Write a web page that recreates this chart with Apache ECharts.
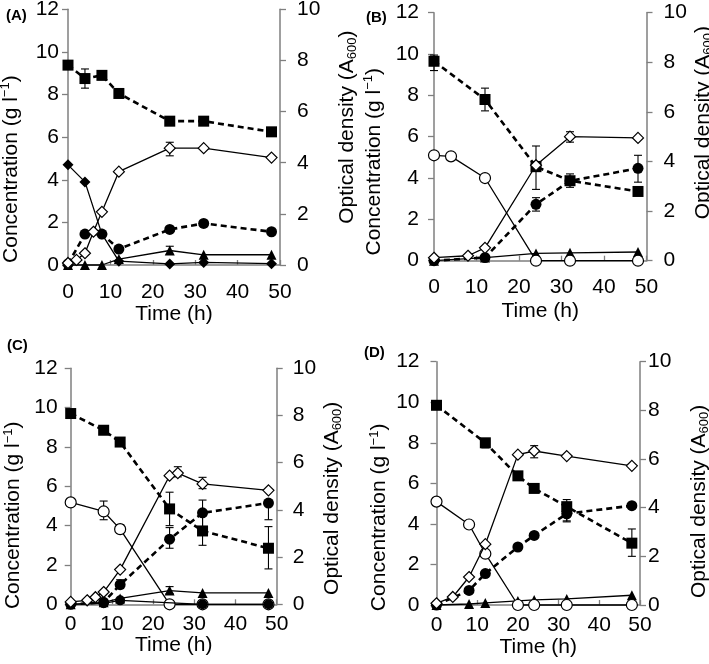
<!DOCTYPE html>
<html>
<head>
<meta charset="utf-8">
<script src="https://cdn.jsdelivr.net/npm/echarts@6/dist/echarts.min.js"></script>
<style>
html,body{margin:0;padding:0;background:#fff;}
#c{width:709px;height:664px;}
</style>
</head>
<body>
<div id="c"></div>
<script>
// ---------- tick labels ----------
const timeTicks = [0, 10, 20, 30, 40, 50];
const concTicks = [0, 2, 4, 6, 8, 10, 12];
const odTicks = [0, 2, 4, 6, 8, 10];
const panelLabels = ['(A)', '(B)', '(C)', '(D)'];

// ---------- Panel A : [time (h), value] ----------
const aSquare = [[0,9.38],[4,8.75],[8,8.9],[12,8.05],[24,6.75],[32,6.75],[48,6.25]];
const aSquareErr = [[4,8.3,9.2],[8,8.7,9.05],[12,7.85,8.25],[24,6.6,6.9],[48,6.05,6.45]];
const aFilledCircle = [[0,0.05],[4,1.45],[8,1.45],[12,0.75],[24,1.67],[32,1.95],[48,1.56]];
const aFilledCircleErr = [[32,1.8,2.08]];
const aTriangle = [[0,0],[4,0],[8,0],[12,0.28],[24,0.68],[32,0.48],[48,0.48]];
const aTriangleErr = [[24,0.5,0.88]];
const aFilledDiamond = [[0,4.7],[4,3.9],[8,1.45],[12,0.18],[24,0.05],[32,0.12],[48,0.06]];
const aOpenDiamondOD = [[0,0.08],[2,0.2],[4,0.46],[6,1.3],[8,2.08],[12,3.65],[24,4.57],[32,4.57],[48,4.2]];
const aOpenDiamondODErr = [[24,4.27,4.8]];

// ---------- Panel B ----------
const bSquare = [[0,9.65],[12,7.8],[24,4.55],[32,3.87],[48,3.35]];
const bSquareErr = [[0,9.2,9.95],[12,7.25,8.35],[24,3.45,5.55],[32,3.55,4.2]];
const bFilledCircle = [[0,0],[12,0.15],[24,2.73],[32,3.86],[48,4.47]];
const bFilledCircleErr = [[24,2.4,3.05],[48,3.8,5.1]];
const bTriangle = [[0,0],[12,0.15],[24,0.35],[32,0.38],[48,0.42]];
const bOpenCircle = [[0,5.1],[4,5.05],[12,4.0],[24,0],[32,0],[48,0]];
const bOpenDiamondOD = [[0,0.12],[8,0.2],[12,0.52],[24,3.85],[32,5.0],[48,4.95]];
const bOpenDiamondODErr = [[24,3.7,4.0],[32,4.78,5.2]];

// ---------- Panel C ----------
const cSquare = [[0,9.7],[8,8.85],[12,8.25],[24,4.85],[32,3.73],[48,2.85]];
const cSquareErr = [[24,4.0,5.7],[32,3.0,4.5],[48,1.8,3.95]];
const cFilledCircle = [[0,0],[8,0.1],[12,1.0],[24,3.31],[32,4.65],[48,5.15]];
const cFilledCircleErr = [[12,0.8,1.25],[24,2.85,3.9],[32,3.85,5.3],[48,4.3,5.2]];
const cTriangle = [[0,0],[8,0.1],[12,0.3],[24,0.7],[32,0.58],[48,0.58]];
const cTriangleErr = [[24,0.55,0.9]];
const cFilledDot = [[0,0],[8,0.05],[12,0.2],[32,0],[48,0]];
const cOpenCircle = [[0,5.18],[8,4.72],[12,3.82],[24,0],[32,0],[48,0]];
const cOpenCircleErr = [[8,4.3,5.25],[12,3.6,4.05]];
const cOpenDiamondOD = [[0,0.1],[4,0.17],[6,0.3],[8,0.52],[12,1.47],[24,5.45],[26,5.56],[32,5.1],[48,4.83]];
const cOpenDiamondODErr = [[26,5.4,5.83],[32,4.9,5.38]];

// ---------- Panel D ----------
const dSquare = [[0,9.85],[12,8.0],[20,6.37],[24,5.75],[32,4.85],[48,3.05]];
const dSquareErr = [[12,7.75,8.2],[32,4.15,5.2],[48,2.4,3.75]];
const dFilledCircle = [[0,0],[8,0.72],[12,1.55],[20,2.86],[24,3.43],[32,4.5],[48,4.9]];
const dFilledCircleErr = [[32,4.1,4.8]];
const dTriangle = [[0,0],[8,0.05],[12,0.1],[20,0.2],[24,0.25],[32,0.3],[48,0.48]];
const dOpenCircle = [[0,5.1],[8,3.97],[12,2.53],[20,0],[24,0],[32,0],[48,0]];
const dOpenDiamondOD = [[0,0.07],[4,0.33],[8,1.15],[12,2.5],[20,6.18],[24,6.33],[32,6.12],[48,5.72]];
const dOpenDiamondODErr = [[24,6.05,6.55]];

// ---------- styling (not data) ----------
const FONT = '"Liberation Sans", Arial, Helvetica, sans-serif';
const AXIS_GRAY = '#7f7f7f';
const STYLES = {
  square:        {symbol:'rect',     size:11, fill:'#000', dashed:true,  z:4},
  filledCircle:  {symbol:'circle',   size:11, fill:'#000', dashed:true,  z:4},
  triangle:      {symbol:'triangle', size:10, fill:'#000', dashed:false, z:5},
  filledDiamond: {symbol:'diamond',  size:11, fill:'#000', dashed:false, z:5},
  openCircle:    {symbol:'circle',   size:11, fill:'#fff', dashed:false, z:6},
  filledDot:     {symbol:'circle',   size:10, fill:'#000', dashed:false, z:6.5},
  openDiamond:   {symbol:'diamond',  size:11, fill:'#fff', dashed:false, z:7, right:true}
};

// lshift/rshift: vertical offset of the rotated axis titles (px, + = down)
const panels = [
  { grid:[68, 9.3, 212, 255.7], label:[1,3], xm:17, xg:37, ym:9, yg:45, rm:17, rg:55, lshift:32, rshift:-10,
    lines:[
      {kind:'square', data:aSquare, err:aSquareErr},
      {kind:'filledCircle', data:aFilledCircle, err:aFilledCircleErr},
      {kind:'triangle', data:aTriangle, err:aTriangleErr},
      {kind:'filledDiamond', data:aFilledDiamond},
      {kind:'openDiamond', data:aOpenDiamondOD, err:aOpenDiamondODErr}
    ]},
  { grid:[434, 12.7, 212.5, 248], label:[361,5], xm:16, xg:40, ym:15, yg:48, rm:17, rg:40, lshift:25, rshift:-14,
    lines:[
      {kind:'square', data:bSquare, err:bSquareErr},
      {kind:'filledCircle', data:bFilledCircle, err:bFilledCircleErr},
      {kind:'triangle', data:bTriangle},
      {kind:'openCircle', data:bOpenCircle},
      {kind:'openDiamond', data:bOpenDiamondOD, err:bOpenDiamondODErr}
    ]},
  { grid:[70.7, 368.3, 206, 236], label:[2,333], xm:9, xg:29, ym:13, yg:45, rm:16, rg:40, lshift:29, rshift:12,
    lines:[
      {kind:'square', data:cSquare, err:cSquareErr},
      {kind:'filledCircle', data:cFilledCircle, err:cFilledCircleErr},
      {kind:'triangle', data:cTriangle, err:cTriangleErr},
      {kind:'openCircle', data:cOpenCircle, err:cOpenCircleErr},
      {kind:'filledDot', data:cFilledDot},
      {kind:'openDiamond', data:cOpenDiamondOD, err:cOpenDiamondODErr}
    ]},
  { grid:[436.5, 361.7, 203.5, 243.3], label:[359,340], xm:10, xg:29, ym:17, yg:45, rm:8, rg:47, lshift:34, rshift:18,
    lines:[
      {kind:'square', data:dSquare, err:dSquareErr},
      {kind:'filledCircle', data:dFilledCircle, err:dFilledCircleErr},
      {kind:'triangle', data:dTriangle},
      {kind:'openCircle', data:dOpenCircle},
      {kind:'openDiamond', data:dOpenDiamondOD, err:dOpenDiamondODErr}
    ]}
];

// A blank rich-text token at the end (top, once rotated) moves the visible title down;
// at the start (bottom) it moves the title up.
function shiftedName(text, s) {
  if (s > 0) return text + '{gap|}';
  if (s < 0) return '{gap|}' + text;
  return text;
}
function makeRich(s) {
  return {
    sup:{fontFamily:FONT, fontSize:13, color:'#000', verticalAlign:'top', lineHeight:24},
    sub:{fontFamily:FONT, fontSize:13, color:'#000', verticalAlign:'bottom', lineHeight:24},
    gap:{width:Math.abs(2*s), height:1}
  };
}

function renderErr(params, api) {
  const x = api.value(0), lo = api.value(1), hi = api.value(2);
  const p1 = api.coord([x, lo]), p2 = api.coord([x, hi]);
  const w = 4;
  const st = {stroke:'#000', lineWidth:1.1};
  return {type:'group', children:[
    {type:'line', shape:{x1:p1[0], y1:p1[1], x2:p2[0], y2:p2[1]}, style:st},
    {type:'line', shape:{x1:p1[0]-w, y1:p1[1], x2:p1[0]+w, y2:p1[1]}, style:st},
    {type:'line', shape:{x1:p2[0]-w, y1:p2[1], x2:p2[0]+w, y2:p2[1]}, style:st}
  ]};
}

const grids = [], xAxes = [], yAxes = [], titles = [], series = [];
const labelStyle = {fontFamily:FONT, fontSize:21, color:'#000'};

panels.forEach((p, i) => {
  grids.push({left:p.grid[0], top:p.grid[1], width:p.grid[2], height:p.grid[3],
              containLabel:false, outerBoundsMode:'none'});
  titles.push({text:panelLabels[i], left:p.label[0], top:p.label[1],
               textStyle:{fontFamily:FONT, fontSize:15, fontWeight:'bold', color:'#000'}});
  xAxes.push({
    gridIndex:i, type:'value', min:timeTicks[0], max:timeTicks[timeTicks.length-1],
    interval:timeTicks[1]-timeTicks[0],
    name:'Time (h)', nameLocation:'middle', nameGap:p.xg,
    nameTextStyle:{fontFamily:FONT, fontSize:21, color:'#000'},
    axisLine:{show:true, onZero:false, lineStyle:{color:AXIS_GRAY, width:1.5}},
    axisTick:{show:true, inside:true, length:5, lineStyle:{color:AXIS_GRAY, width:1.3}},
    axisLabel:Object.assign({margin:p.xm, showMinLabel:true, showMaxLabel:true}, labelStyle),
    splitLine:{show:false}
  });
  yAxes.push({
    gridIndex:i, type:'value', position:'left', min:concTicks[0], max:concTicks[concTicks.length-1],
    interval:concTicks[1]-concTicks[0],
    name:shiftedName('Concentration (g l{sup|\u22121})', p.lshift), nameLocation:'middle', nameGap:p.yg, nameRotate:90,
    nameTextStyle:{fontFamily:FONT, fontSize:21, color:'#000', lineHeight:24, rich:makeRich(p.lshift)},
    axisLine:{show:true, lineStyle:{color:AXIS_GRAY, width:1.5}},
    axisTick:{show:true, inside:false, length:6, lineStyle:{color:AXIS_GRAY, width:1.3}},
    axisLabel:Object.assign({margin:p.ym, showMinLabel:true, showMaxLabel:true}, labelStyle),
    splitLine:{show:false}
  });
  yAxes.push({
    gridIndex:i, type:'value', position:'right', min:odTicks[0], max:odTicks[odTicks.length-1],
    interval:odTicks[1]-odTicks[0],
    name:shiftedName('Optical density (A{sub|600})', p.rshift), nameLocation:'middle', nameGap:p.rg, nameRotate:90,
    nameTextStyle:{fontFamily:FONT, fontSize:21, color:'#000', lineHeight:24, rich:makeRich(p.rshift)},
    axisLine:{show:true, lineStyle:{color:AXIS_GRAY, width:1.5}},
    axisTick:{show:true, inside:false, length:6, lineStyle:{color:AXIS_GRAY, width:1.3}},
    axisLabel:Object.assign({margin:p.rm, showMinLabel:true, showMaxLabel:true}, labelStyle),
    splitLine:{show:false}
  });
  p.lines.forEach(l => {
    const st = STYLES[l.kind];
    const yIdx = st.right ? 2*i+1 : 2*i;
    series.push({
      type:'line', name:l.kind, xAxisIndex:i, yAxisIndex:yIdx, data:l.data,
      symbol:st.symbol, symbolSize:st.size, showSymbol:true, showAllSymbol:true, clip:false,
      z:st.z, animation:false, silent:true,
      lineStyle:{color:'#000', width:st.dashed ? 2.6 : 1.3, type:st.dashed ? [6,4] : 'solid'},
      itemStyle:{color:st.fill, borderColor:'#000', borderWidth:st.fill === '#fff' ? 1.2 : 0, opacity:1},
      emphasis:{disabled:true}
    });
    if (l.err) {
      series.push({
        type:'custom', xAxisIndex:i, yAxisIndex:yIdx, data:l.err, renderItem:renderErr,
        encode:{x:0, y:[1,2]}, z:3, animation:false, silent:true, clip:false
      });
    }
  });
});

const chart = echarts.init(document.getElementById('c'), null, {renderer:'canvas'});
chart.setOption({
  backgroundColor:'#fff',
  animation:false,
  title:titles,
  grid:grids,
  xAxis:xAxes,
  yAxis:yAxes,
  tooltip:{show:false},
  legend:{show:false},
  series:series
});
</script>
</body>
</html>
